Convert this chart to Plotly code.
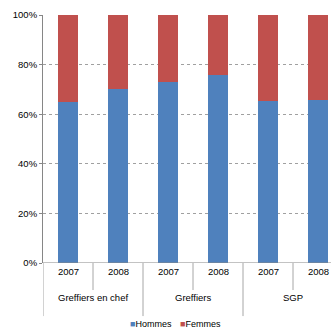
import plotly.graph_objects as go

# Share of men / women by staff category and year
groups = ["Greffiers en chef", "Greffiers", "SGP"]
years = ["2007", "2008"]
hommes = [65.0, 70.0, 72.8, 75.7, 65.3, 65.6]
femmes = [round(100 - v, 1) for v in hommes]
series_names = ["Hommes", "Femmes"]
series_colors = ["#4F81BD", "#C0504D"]
y_ticks = [0, 20, 40, 60, 80, 100]

FONT = "Liberation Sans, Arial, sans-serif"
TXT = "#404040"
LINE = "#A6A6A6"

# one slot per (group, year) pair
x_pos = list(range(len(groups) * len(years)))

fig = go.Figure()
for name, vals, col in zip(series_names, [hommes, femmes], series_colors):
    fig.add_trace(go.Bar(
        x=x_pos, y=vals, name=name, marker_color=col,
        marker_line_width=0, width=0.4, showlegend=False,
    ))

# two-level category labels with dividers
ann = []
shapes = []
inner_y, outer_y = -0.109, -0.214
for gi, g in enumerate(groups):
    for yi, yr in enumerate(years):
        k = gi * len(years) + yi
        ann.append(dict(x=k, y=-0.065, xref="x", yref="paper", text=yr,
                        showarrow=False, font=dict(size=9.5, color="#000", family=FONT)))
        left = k - 0.5
        shapes.append(dict(type="line", xref="x", yref="paper", x0=left, x1=left,
                           y0=0, y1=outer_y if yi == 0 else inner_y,
                           line=dict(color=LINE, width=1)))
    ann.append(dict(x=gi * len(years) + (len(years) - 1) / 2, y=-0.169, xref="x", yref="paper",
                    text=g, showarrow=False, font=dict(size=9.5, color="#000", family=FONT)))
shapes.append(dict(type="line", xref="x", yref="paper", x0=len(x_pos) - 0.5, x1=len(x_pos) - 0.5,
                   y0=0, y1=outer_y, line=dict(color=LINE, width=1)))

# legend row
legend_x = [(128 - 43) / 288, (178 - 43) / 288]
for name, col, lx in zip(series_names, series_colors, legend_x):
    ann.append(dict(x=lx, y=(263 - 331) / 248, xref="paper", yref="paper", xanchor="left",
                    text=f"<span style='color:{col}'>■</span>{name}", showarrow=False,
                    font=dict(size=9, color="#000", family=FONT)))

fig.update_layout(
    width=331, height=334,
    margin=dict(l=43, r=0, t=15, b=71),
    barmode="stack",
    plot_bgcolor="white", paper_bgcolor="white",
    font=dict(family=FONT, size=9, color=TXT),
    xaxis=dict(range=[-0.5, -0.5 + 288 / 50], showticklabels=False, showgrid=False,
               zeroline=False, showline=False, ticks=""),
    yaxis=dict(range=[0, 100], tickvals=y_ticks, ticktext=[f"{v}%" for v in y_ticks],
               showgrid=True, gridcolor="#A0A0A0", griddash="dot", gridwidth=1,
               zeroline=False, showline=True, linecolor="#868686", linewidth=1,
               ticks="outside", ticklen=3, tickcolor="#868686",
               tickfont=dict(size=9.5, color="#000", family=FONT)),
    annotations=ann,
    shapes=shapes + [dict(type="line", xref="paper", yref="y", x0=0, x1=1, y0=0, y1=0,
                          line=dict(color="#868686", width=1))],
    bargap=0.6,
)

fig.write_html("out.html")
